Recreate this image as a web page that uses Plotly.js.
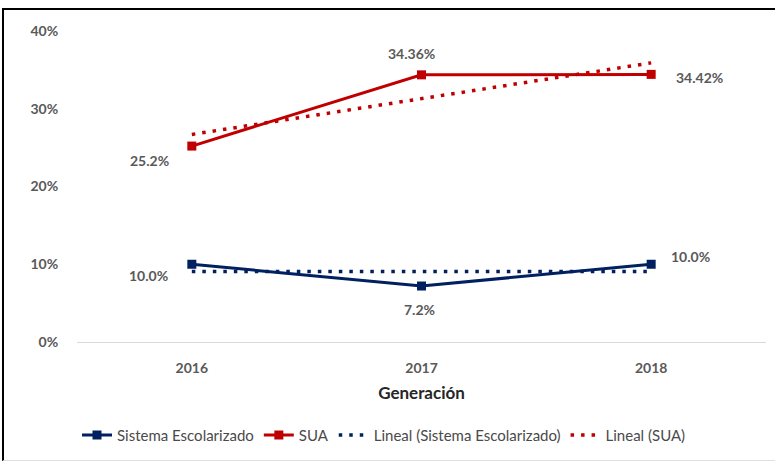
<!DOCTYPE html>
<html>
<head>
<meta charset="utf-8">
<script src="https://cdn.plot.ly/plotly-3.0.1.min.js"></script>
<style>
  html, body { margin: 0; padding: 0; background: #fff; }
  #chart { width: 775px; height: 462px; }
  #frame { position: absolute; left: 2px; top: 8px; width: 780px; height: 450px;
           border-left: 2px solid #000; border-top: 2px solid #000; border-bottom: 1px solid #e0e0e0;
           pointer-events: none; }
</style>
</head>
<body>
<div id="chart"></div>
<div id="frame"></div>
<script>
const categories = ['2016', '2017', '2018'];
const escolarizado = [0.100, 0.072, 0.100];
const sua = [0.252, 0.3436, 0.3442];
const trendEscolarizado = [0.0907, 0.0907, 0.0907];
const trendSua = [0.267, 0.313, 0.359];
const escolarizadoLabels = ['10.0%', '7.2%', '10.0%'];
const suaLabels = ['25.2%', '34.36%', '34.42%'];
const seriesNames = ['Sistema Escolarizado', 'SUA', 'Lineal (Sistema Escolarizado)', 'Lineal (SUA)'];
const yTicks = [0, 0.1, 0.2, 0.3, 0.4];

const NAVY = '#002060', RED = '#C00000', GRAY = '#595959';
const FONT = 'Lato, "Open Sans", sans-serif';

const traces = [
  { x: categories, y: escolarizado, name: seriesNames[0], type: 'scatter', mode: 'lines+markers',
    line: { color: NAVY, width: 3 }, marker: { symbol: 'square', size: 9, color: NAVY } },
  { x: categories, y: sua, name: seriesNames[1], type: 'scatter', mode: 'lines+markers',
    line: { color: RED, width: 3 }, marker: { symbol: 'square', size: 9, color: RED } },
  { x: categories, y: trendEscolarizado, name: seriesNames[2], type: 'scatter', mode: 'lines',
    line: { color: NAVY, width: 3.5, dash: '3.5px,7px' } },
  { x: categories, y: trendSua, name: seriesNames[3], type: 'scatter', mode: 'lines',
    line: { color: RED, width: 3.5, dash: '3.5px,7px' } }
];

const escShifts = [[-43, -11], [-2, -23], [39, 8]];
const suaShifts = [[-42, -14], [-10, 21], [48, -3]];
const labelFont = { family: FONT, size: 14, color: GRAY, weight: 700 };
const annotations = [];
for (let i = 0; i < categories.length; i++) {
  annotations.push({ x: i, y: escolarizado[i], xref: 'x', yref: 'y', text: escolarizadoLabels[i],
    showarrow: false, xshift: escShifts[i][0], yshift: escShifts[i][1], font: labelFont });
  annotations.push({ x: i, y: sua[i], xref: 'x', yref: 'y', text: suaLabels[i],
    showarrow: false, xshift: suaShifts[i][0], yshift: suaShifts[i][1], font: labelFont });
}

const layout = {
  width: 775, height: 462,
  margin: { l: 77, r: 9, t: 31, b: 120 },
  paper_bgcolor: '#fff', plot_bgcolor: '#fff',
  font: { family: FONT, color: GRAY },
  showlegend: true,
  legend: { orientation: 'h', x: 0.0, xanchor: 'left', y: -0.30, yanchor: 'middle',
    font: { family: FONT, size: 15, color: '#4a4a4a' }, traceorder: 'normal' },
  xaxis: { type: 'category', range: [-0.5, 2.5], showgrid: false, zeroline: false,
    showline: true, linecolor: '#d9d9d9', linewidth: 1,
    ticks: 'outside', ticklen: 13, tickcolor: 'rgba(0,0,0,0)',
    tickfont: { family: FONT, size: 14, color: GRAY, weight: 700 },
    title: { text: 'Generación', standoff: 12, font: { family: FONT, size: 17, color: '#262626', weight: 700 } } },
  yaxis: { range: [0, 0.4], tickvals: yTicks, tickformat: '.0%', showgrid: false, zeroline: false,
    showline: false, ticks: 'outside', ticklen: 15, tickcolor: 'rgba(0,0,0,0)',
    tickfont: { family: FONT, size: 14, color: GRAY, weight: 700 } },
  annotations: annotations
};

Plotly.newPlot('chart', traces, layout, { displayModeBar: false, staticPlot: true });
</script>
</body>
</html>
